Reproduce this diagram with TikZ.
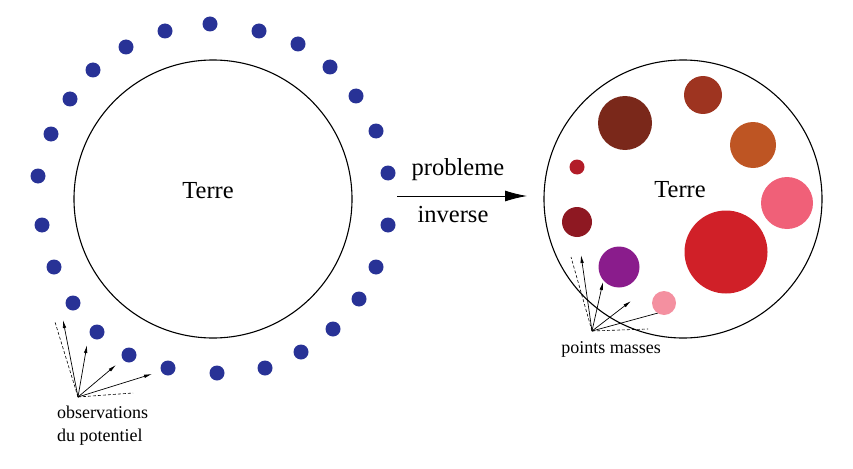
\documentclass[tikz,border=0pt]{standalone}
\usepackage{fontspec}
\setmainfont{Liberation Serif}
\usetikzlibrary{arrows.meta}
\definecolor{obsblue}{RGB}{40,50,150}
\definecolor{mbrun}{RGB}{122,40,26}
\definecolor{mrouille}{RGB}{158,52,32}
\definecolor{morange}{RGB}{190,85,35}
\definecolor{mrouge}{RGB}{178,28,40}
\definecolor{mrose}{RGB}{240,96,120}
\definecolor{mbordeaux}{RGB}{142,24,34}
\definecolor{mgrenat}{RGB}{208,32,40}
\definecolor{mviolet}{RGB}{138,28,140}
\definecolor{mrosepale}{RGB}{244,144,160}
\begin{document}
\begin{tikzpicture}[x=1pt,y=-1pt,
    obs/.style={circle, fill=obsblue, inner sep=0pt, minimum size=15pt},
    masse/.style={circle, inner sep=0pt},
    terre/.style={circle, draw, line width=1.1pt, inner sep=0pt, minimum size=278pt},
    grand/.style={font=\fontsize{24.5}{29}\selectfont},
    petit/.style={font=\fontsize{18}{23}\selectfont},
    fleche/.style={-{Latex[length=8pt,width=3.5pt]}, line width=0.7pt},
    trait/.style={line width=0.6pt, dash pattern=on 3pt off 2pt}]
    \useasboundingbox (0,0) rectangle (853,468);

    % Earth and observations
    \node[terre] (terreA) at (213,199) {};
    \node[grand, anchor=base] (labA) at (208,198) {Terre};
    \foreach \x/\y [count=\i] in {210/24, 259/31, 298/44, 330/67, 356/96, 376/131,
        388/173, 388/225, 376/267, 359/299, 333/329, 301/352, 265/368, 217/373,
        168/368, 129/355, 97/332, 73/303, 54/267, 42/225, 38/176, 51/134, 70/99,
        93/70, 126/47, 165/31}
        \node[obs] (o\i) at (\x,\y) {};

    % Arrows towards the observations
    \coordinate (oA) at (78,397);
    \coordinate (tA1) at (63,320);
    \coordinate (tA2) at (87,345);
    \coordinate (tA3) at (116,365);
    \coordinate (tA4) at (152,374);
    \coordinate (dA1) at (55,322);
    \coordinate (dA2) at (133,393);
    \draw[trait] (oA) -- (dA1);
    \draw[trait] (oA) -- (dA2);
    \foreach \t in {tA1,tA2,tA3,tA4}
        \draw[fleche] (oA) -- (\t);
    \node[petit, anchor=north west, align=left, inner sep=0pt] (labObs) at (57,406) {observations\\du potentiel};

    % Inverse problem
    \coordinate (pA) at (397,196);
    \coordinate (pB) at (527,196);
    \draw[-{Latex[length=22pt,width=11pt]}, line width=0.9pt] (pA) -- (pB);
    \node[grand, anchor=base] (probl) at (458,175) {probleme};
    \node[grand, anchor=base] (inv) at (453,222) {inverse};

    % Earth with point masses
    \node[terre] (terreB) at (683,199) {};
    \node[grand, anchor=base] (labB) at (680,197) {Terre};

    % Arrows towards the masses
    \coordinate (oB) at (592,331);
    \coordinate (tB1) at (581,255);
    \coordinate (tB2) at (603,282);
    \coordinate (tB3) at (631,301);
    \coordinate (tB4) at (658,313);
    \coordinate (dB1) at (571,257);
    \coordinate (dB2) at (648,329);
    \draw[trait] (oB) -- (dB1);
    \draw[trait] (oB) -- (dB2);
    \foreach \t in {tB1,tB2,tB3}
        \draw[fleche] (oB) -- (\t);
    \draw[line width=0.7pt] (oB) -- (tB4); % ends on the small mass
    \node[petit, anchor=base] (labMasses) at (611,353) {points masses};

    \node[masse, fill=mbrun, minimum size=54pt] (m1) at (625,123) {};
    \node[masse, fill=mrouille, minimum size=38pt] (m2) at (703,95) {};
    \node[masse, fill=morange, minimum size=46pt] (m3) at (753,145) {};
    \node[masse, fill=mrouge, minimum size=15pt] (m4) at (577,167) {};
    \node[masse, fill=mrose, minimum size=52pt] (m5) at (787,203) {};
    \node[masse, fill=mbordeaux, minimum size=30pt] (m6) at (577,222) {};
    \node[masse, fill=mgrenat, minimum size=83pt] (m7) at (726,252) {};
    \node[masse, fill=mviolet, minimum size=41pt] (m8) at (619,267) {};
    \node[masse, fill=mrosepale, minimum size=24pt] (m9) at (664,303) {};

\end{tikzpicture}
\end{document}
